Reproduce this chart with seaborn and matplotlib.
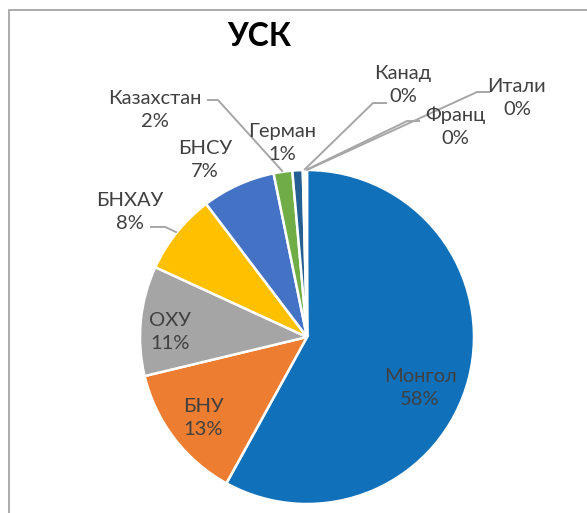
import matplotlib
matplotlib.use("Agg")
import numpy as np
import matplotlib.pyplot as plt
import seaborn as sns

# shares by country (%)
countries = ["Монгол", "БНУ", "ОХУ", "БНХАУ", "БНСУ", "Казахстан", "Герман", "Канад", "Франц", "Итали"]
shares = [57.9, 13.2, 10.6, 7.8, 7.1, 1.8, 1.0, 0.25, 0.1, 0.05]
colors = ["#1170BA", "#ED7D31", "#A5A5A5", "#FFC000", "#4472C4",
          "#70AD47", "#255E91", "#9E480E", "#636363", "#997300"]

sns.set_theme(style="white")
plt.rcParams["font.family"] = ["Lato", "DejaVu Sans"]

W, H = 587, 513
R = 167.0            # pie radius in px
CX, CY = 307, 337    # pie centre in px

fig = plt.figure(figsize=(W / 100, H / 100), dpi=100)
ax = fig.add_axes([0, 0, 1, 1])

wedges, _ = ax.pie(shares, colors=colors, startangle=90, counterclock=False, radius=1,
                   wedgeprops=dict(edgecolor="white", linewidth=1.8))
ax.set_xlim(-CX / R, (W - CX) / R)
ax.set_ylim(-(H - CY) / R, CY / R)
ax.axis("off")

# label positions (pie units)
label_pos = [(0.677, -0.305), (-0.623, -0.485), (-0.820, 0.030), (-1.06, 0.749),
             (-0.611, 1.060), (-0.910, 1.359), (-0.150, 1.162), (0.575, 1.509),
             (0.886, 1.257), (1.257, 1.431)]
total = sum(shares)
for name, v, (x, y) in zip(countries, shares, label_pos):
    ax.text(x, y, f"{name}\n{round(v / total * 100)}%", ha="center", va="center",
            fontsize=14.5, color="#404040", linespacing=1.45)

# leader lines: label end, bend
leaders = {
    3: [(-0.94, 0.659), (-0.85, 0.659)],
    5: [(-0.599, 1.419), (-0.533, 1.419)],
    7: [(0.479, 1.401), (0.395, 1.401)],
    8: [(0.677, 1.293), (0.599, 1.293)],
    9: [(1.096, 1.467), (1.018, 1.467)],
}
for i, pts in leaders.items():
    w = wedges[i]
    th = np.deg2rad((w.theta1 + w.theta2) / 2)
    xs = [p[0] for p in pts] + [np.cos(th)]
    ys = [p[1] for p in pts] + [np.sin(th)]
    ax.plot(xs, ys, color="#A6A6A6", lw=1.4, solid_capstyle="butt")

fig.text(259 / W, 1 - 37 / H, "УСК", ha="center", va="center",
         fontsize=23, fontweight="bold", color="black")

# chart border (right/bottom are cut off in the reference)
fig.add_artist(plt.Rectangle((9 / W, -0.05), 1.2, 1 - 10 / H + 0.05,
                             transform=fig.transFigure, fill=False,
                             edgecolor="#A6A6A6", lw=1.3))

fig.savefig("out.png", dpi=100)
